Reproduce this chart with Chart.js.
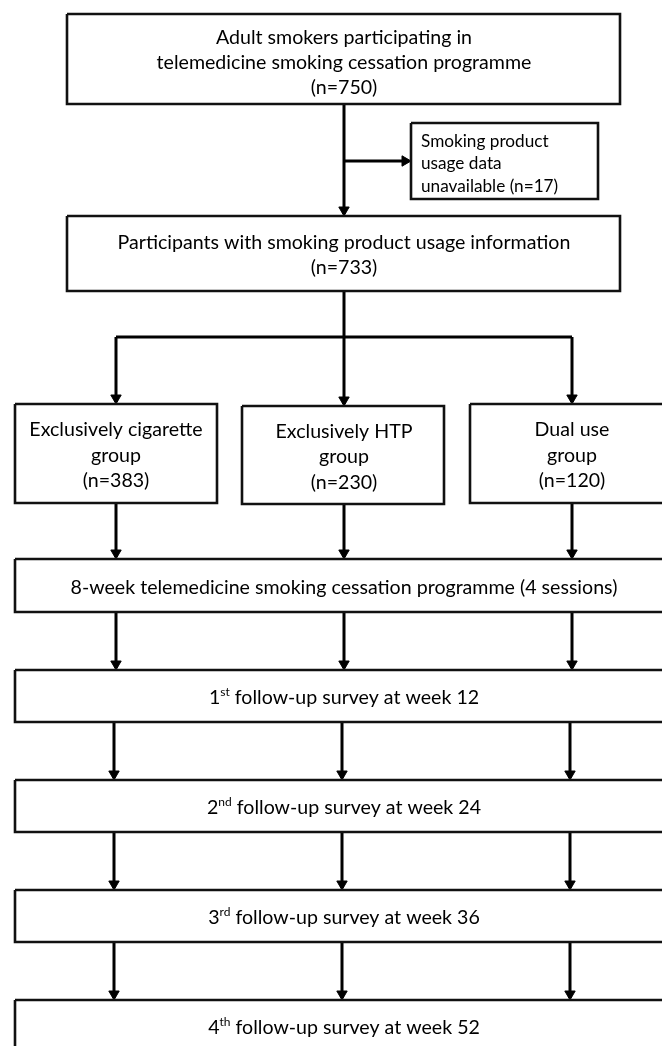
<!DOCTYPE html>
<html>
<head>
<meta charset="utf-8">
<script src="https://cdn.jsdelivr.net/npm/chart.js@4/dist/chart.umd.min.js"></script>
<style>
  html, body { margin: 0; padding: 0; background: #fff; overflow: hidden; }
  canvas { display: block; }
</style>
</head>
<body>
<canvas id="flow" width="662" height="1046"></canvas>
<script>
// --- flow content ---
const topLines = ['Adult smokers participating in', 'telemedicine smoking cessation programme'];
const totalN = 750;
const missingLines = ['Smoking product', 'usage data'];
const missingN = 17;
const infoLine = 'Participants with smoking product usage information';
const analysedN = 733;
const groupLines = [['Exclusively cigarette', 'group'], ['Exclusively HTP', 'group'], ['Dual use', 'group']];
const groupN = [383, 230, 120];
const programmeLabel = '8-week telemedicine smoking cessation programme (4 sessions)';
const surveyNo = ['1', '2', '3', '4'];
const surveySup = ['st', 'nd', 'rd', 'th'];
const surveyWeek = [12, 24, 36, 52];

// --- layout (canvas units, y grows downwards) ---
const colX = [116, 344, 572];
const colX2 = [114, 342, 570];
const topBox = { x0: 67, x1: 620, y0: 14, y1: 104 };
const sideBox = { x0: 411, x1: 598, y0: 123, y1: 199 };
const infoBox = { x0: 67, x1: 620, y0: 216, y1: 291 };
const branchY = 337;
const groupBoxes = [
    { x0: 15, x1: 217, y0: 404, y1: 503 },
    { x0: 242, x1: 444, y0: 406, y1: 504 },
    { x0: 470, x1: 690, y0: 404, y1: 503 }
];
const progBox = { x0: 15, x1: 690, y0: 559, y1: 612 };
const surveyTop = [670, 780, 890, 1000];
const surveyH = 52;

const FONT = 'Lato, "Open Sans", sans-serif';
const MAIN = 19.6;
const TEXT_DY = 2;
const ARROW_R = 6;

const surveyBoxes = surveyTop.map(t => ({ x0: 15, x1: 690, y0: t, y1: t + surveyH }));
const allBoxes = [topBox, sideBox, infoBox, ...groupBoxes, progBox, ...surveyBoxes];

// connectors [from, to] ; arrows [tip, direction]
const segments = [];
const arrows = [];
segments.push([{ x: colX[1], y: topBox.y1 }, { x: colX[1], y: infoBox.y0 - 2 }]);
arrows.push([{ x: colX[1], y: infoBox.y0 }, 'down']);
const sideY = (sideBox.y0 + sideBox.y1) / 2;
segments.push([{ x: colX[1], y: sideY }, { x: sideBox.x0 - 4, y: sideY }]);
arrows.push([{ x: sideBox.x0, y: sideY }, 'right']);
segments.push([{ x: colX[1], y: infoBox.y1 }, { x: colX[1], y: branchY }]);
segments.push([{ x: colX[0], y: branchY }, { x: colX[2], y: branchY }]);
groupBoxes.forEach((b, i) => {
    segments.push([{ x: colX[i], y: branchY }, { x: colX[i], y: b.y0 - 2 }]);
    arrows.push([{ x: colX[i], y: b.y0 }, 'down']);
    segments.push([{ x: colX[i], y: b.y1 }, { x: colX[i], y: progBox.y0 - 2 }]);
    arrows.push([{ x: colX[i], y: progBox.y0 }, 'down']);
});
const stack = [progBox, ...surveyBoxes];
for (let k = 0; k < stack.length - 1; k++) {
    const xs = k === 0 ? colX : colX2;
    xs.forEach(x => {
        segments.push([{ x: x, y: stack[k].y1 }, { x: x, y: stack[k + 1].y0 - 2 }]);
        arrows.push([{ x: x, y: stack[k + 1].y0 }, 'down']);
    });
}

const datasets = [];
allBoxes.forEach(b => {
    datasets.push({
        data: [{ x: b.x0, y: b.y0 }, { x: b.x1, y: b.y0 }, { x: b.x1, y: b.y1 }, { x: b.x0, y: b.y1 }, { x: b.x0, y: b.y0 }],
        showLine: true, borderColor: '#111', borderWidth: 2.6, pointRadius: 0, borderJoinStyle: 'miter'
    });
});
segments.forEach(s => {
    datasets.push({ data: s, showLine: true, borderColor: '#000', borderWidth: 3, pointRadius: 0 });
});
datasets.push({
    data: arrows.map(a => a[1] === 'down' ? { x: a[0].x, y: a[0].y - ARROW_R } : { x: a[0].x - ARROW_R, y: a[0].y }),
    pointStyle: 'triangle',
    rotation: arrows.map(a => a[1] === 'down' ? 180 : 90),
    pointRadius: ARROW_R,
    backgroundColor: '#000',
    borderColor: '#000',
    borderWidth: 1
});

// text plugin
const flowText = {
    id: 'flowText',
    afterDatasetsDraw(chart) {
        const ctx = chart.ctx;
        const sx = chart.scales.x, sy = chart.scales.y;
        const px = v => sx.getPixelForValue(v);
        const py = v => sy.getPixelForValue(v);
        ctx.save();
        ctx.fillStyle = '#000';
        ctx.textBaseline = 'middle';

        const centered = (lines, cxv, mid, size, gap) => {
            ctx.font = size + 'px ' + FONT;
            ctx.textAlign = 'center';
            const start = mid + TEXT_DY - gap * (lines.length - 1) / 2;
            lines.forEach((l, i) => ctx.fillText(l, px(cxv), py(start + i * gap)));
        };

        centered([...topLines, '(n=' + totalN + ')'], colX[1], 61, MAIN, 25);
        centered([infoLine, '(n=' + analysedN + ')'], colX[1], 253, MAIN, 25);
        groupBoxes.forEach((b, i) => {
            centered([...groupLines[i], '(n=' + groupN[i] + ')'], colX[i], (b.y0 + b.y1) / 2, MAIN, 25.5);
        });
        centered([programmeLabel], colX[1], (progBox.y0 + progBox.y1) / 2, MAIN, 25);

        // side box, left aligned
        ctx.font = '17.2px ' + FONT;
        ctx.textAlign = 'left';
        const sideText = [...missingLines, 'unavailable (n=' + missingN + ')'];
        sideText.forEach((l, i) => ctx.fillText(l, px(sideBox.x0 + 10), py(sideBox.y0 + 18 + i * 22.5)));

        // follow-up boxes with superscripts
        surveyBoxes.forEach((b, i) => {
            const sup = 12;
            const rest = ' follow-up survey at week ' + surveyWeek[i];
            ctx.font = MAIN + 'px ' + FONT;
            const w1 = ctx.measureText(surveyNo[i]).width;
            const w3 = ctx.measureText(rest).width;
            ctx.font = sup + 'px ' + FONT;
            const w2 = ctx.measureText(surveySup[i]).width;
            let x = px(colX[1]) - (w1 + w2 + w3) / 2;
            const y = py((b.y0 + b.y1) / 2 + TEXT_DY);
            ctx.textAlign = 'left';
            ctx.font = MAIN + 'px ' + FONT;
            ctx.fillText(surveyNo[i], x, y);
            x += w1;
            ctx.font = sup + 'px ' + FONT;
            ctx.fillText(surveySup[i], x, y - 6);
            x += w2;
            ctx.font = MAIN + 'px ' + FONT;
            ctx.fillText(rest, x, y);
        });
        ctx.restore();
    }
};

new Chart(document.getElementById('flow').getContext('2d'), {
    type: 'scatter',
    data: { datasets: datasets },
    options: {
        responsive: false,
        animation: false,
        layout: { padding: 0, autoPadding: false },
        scales: {
            x: { type: 'linear', min: 0, max: 662, display: false },
            y: { type: 'linear', min: 0, max: 1046, reverse: true, display: false }
        },
        plugins: {
            legend: { display: false },
            tooltip: { enabled: false }
        }
    },
    plugins: [flowText]
});
</script>
</body>
</html>
